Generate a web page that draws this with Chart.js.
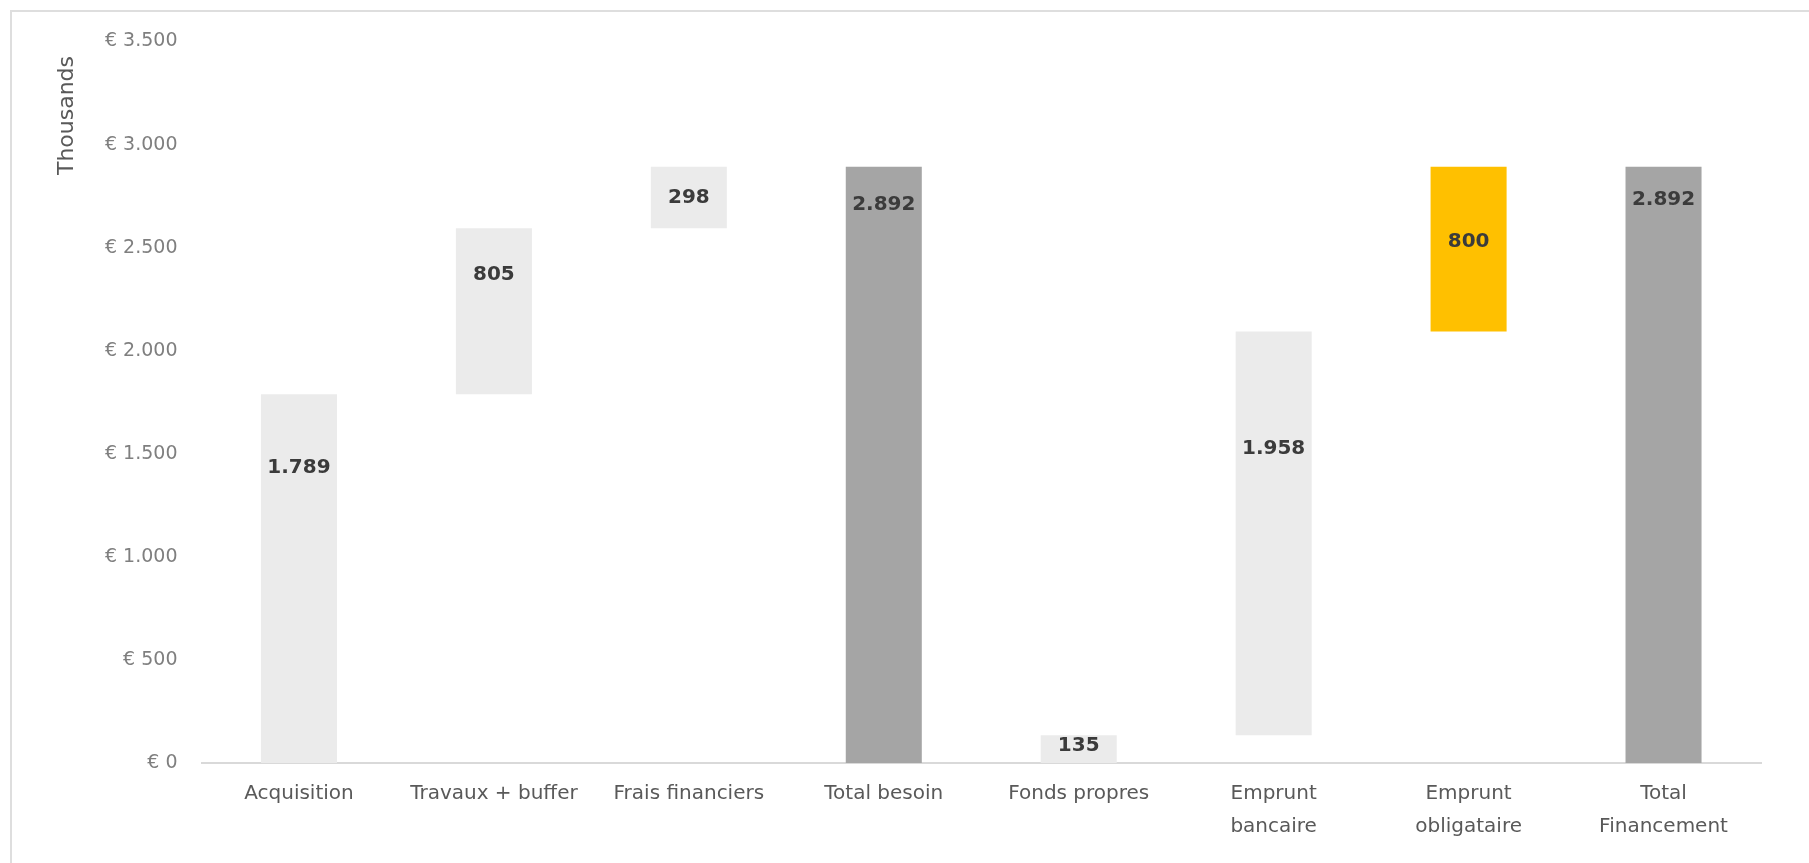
<!DOCTYPE html>
<html>
<head>
<meta charset="utf-8">
<script src="https://cdn.jsdelivr.net/npm/chart.js@4"></script>
<style>
  html, body { margin: 0; padding: 0; background: #fff; overflow: hidden; }
  #wrap { position: relative; width: 1809px; height: 863px; }
  #frame { position: absolute; left: 10px; top: 10px; width: 1850px; height: 900px; border: 2px solid #dedede; }
  #chart { position: absolute; left: 0; top: 0; }
</style>
</head>
<body>
<div id="wrap">
  <div id="frame"></div>
  <canvas id="chart" width="1809" height="863"></canvas>
</div>
<script>
// Financing waterfall (values in thousands of euros)
const categories = [
  "Acquisition",
  "Travaux + buffer",
  "Frais financiers",
  "Total besoin",
  "Fonds propres",
  ["Emprunt", "bancaire"],
  ["Emprunt", "obligataire"],
  ["Total", "Financement"],
];
const amounts = [1789, 805, 298, 2892, 135, 1958, 800, 2892];
const isTotal = [false, false, false, true, false, false, false, true];
// where each value label sits (in axis units)
const labelAt = [1432, 2366, 2743, 2709, 82, 1524, 2530, 2733];
const yTicks = [0, 500, 1000, 1500, 2000, 2500, 3000, 3500];

const barColors = ["#ebebeb", "#ebebeb", "#ebebeb", "#a5a5a5", "#ebebeb", "#ebebeb", "#ffc000", "#a5a5a5"];

// build floating [start, end] pairs for the waterfall
let running = 0;
const floating = amounts.map((v, i) => {
  if (isTotal[i]) {
    running = 0;
    return [0, v];
  }
  const pair = [running, running + v];
  running += v;
  return pair;
});

function fmt(v) {
  return String(v).replace(/\B(?=(\d{3})+(?!\d))/g, ".");
}

const FONT = "'DejaVu Sans', sans-serif";

// value labels + axis title
const labelPlugin = {
  id: "waterfallLabels",
  afterDatasetsDraw(chart) {
    const ctx = chart.ctx;
    const y = chart.scales.y;
    const meta = chart.getDatasetMeta(0);
    ctx.save();
    ctx.font = "bold 20px " + FONT;
    ctx.fillStyle = "#3b3b3b";
    ctx.textAlign = "center";
    ctx.textBaseline = "middle";
    meta.data.forEach((bar, i) => {
      ctx.fillText(fmt(amounts[i]), bar.x, y.getPixelForValue(labelAt[i]));
    });
    ctx.restore();

    // "Thousands" title, placed near the top of the axis
    ctx.save();
    ctx.font = "22px " + FONT;
    ctx.fillStyle = "#595959";
    ctx.textAlign = "center";
    ctx.textBaseline = "middle";
    ctx.translate(y.left + 56, chart.chartArea.top + 74);
    ctx.rotate(-Math.PI / 2);
    ctx.fillText("Thousands", 0, 0);
    ctx.restore();
  },
};

const ctx = document.getElementById("chart").getContext("2d");
const chart = new Chart(ctx, {
  type: "bar",
  data: {
    labels: categories,
    datasets: [
      {
        data: floating,
        backgroundColor: barColors,
        borderWidth: 0,
        categoryPercentage: 0.39,
        barPercentage: 1,
      },
    ],
  },
  options: {
    responsive: false,
    animation: false,
    devicePixelRatio: 1,
    layout: {
      padding: { left: 11, top: 41.5, right: 48, bottom: 0 },
    },
    plugins: {
      legend: { display: false },
      tooltip: { enabled: false },
    },
    scales: {
      x: {
        grid: { display: false, drawTicks: false },
        border: { display: true, color: "#d9d9d9", width: 2 },
        ticks: {
          color: "#595959",
          font: { family: FONT, size: 20, lineHeight: 1.65 },
          padding: 14,
          maxRotation: 0,
          autoSkip: false,
        },
        afterFit(scale) {
          scale.height = 100;
        },
      },
      y: {
        min: 0,
        max: 3500,
        grid: { display: false, drawTicks: false },
        border: { display: false },
        afterBuildTicks(scale) {
          scale.ticks = yTicks.map((v) => ({ value: v }));
        },
        ticks: {
          color: "#7f7f7f",
          font: { family: FONT, size: 19 },
          padding: 24,
          callback: (v) => "€ " + fmt(v),
        },
        afterFit(scale) {
          scale.width = 190.5;
        },
      },
    },
  },
  plugins: [labelPlugin],
});
</script>
</body>
</html>
